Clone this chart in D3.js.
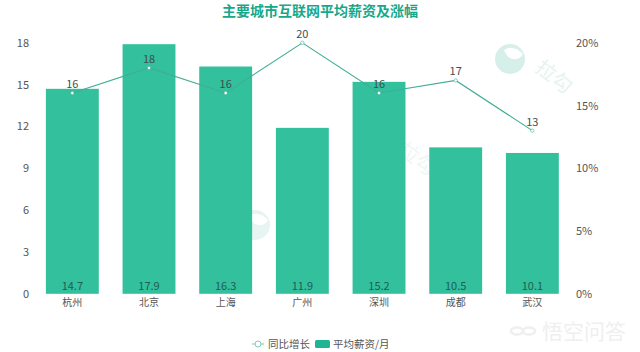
<!DOCTYPE html>
<html>
<head>
<meta charset="utf-8">
<script src="https://cdn.jsdelivr.net/npm/d3@7"></script>
<style>
  html, body { margin: 0; padding: 0; background: #fff; }
  svg { display: block; }
  text { font-family: "Noto Sans CJK SC", "Noto Sans", sans-serif; }
</style>
</head>
<body>
<div id="chart"></div>
<script>
const cities = ['杭州', '北京', '上海', '广州', '深圳', '成都', '武汉']
const salary = [14.7, 17.9, 16.3, 11.9, 15.2, 10.5, 10.1]
const growth = [16, 18, 16, 20, 16, 17, 13]
const salaryTicks = [0, 3, 6, 9, 12, 15, 18]
const growthTicks = [0, 5, 10, 15, 20]

const width = 640
const height = 352
const barColor = '#33c09d'
const lineColor = '#3fae95'
const textColor = '#555'

const svg = d3
  .select('#chart')
  .append('svg')
  .attr('width', width)
  .attr('height', height)
  .attr('viewBox', [0, 0, width, height])

const x = d3.scaleBand().domain(cities).range([34, 570.7]).paddingInner(0.31).paddingOuter(0.155)
const y = d3.scaleLinear().domain([0, 18]).range([293.8, 42.8])
const yRight = d3.scaleLinear().domain([0, 20]).range([293.8, 42.8])

// Title
svg
  .append('text')
  .attr('x', 320)
  .attr('y', 16)
  .attr('text-anchor', 'middle')
  .attr('font-size', 14)
  .attr('font-weight', 700)
  .attr('fill', '#17a78a')
  .text('主要城市互联网平均薪资及涨幅')

// Watermarks, drawn under the bars
function logo(g, circleFill, textFill) {
  g.append('circle').attr('r', 15).attr('fill', circleFill)
  g.append('path').attr('d', 'M-6,-9 Q3,-15 13,-5 Q10,1 3,0 Q-3,-1 -6,-9Z').attr('fill', '#fff')
  g.append('text')
    .attr('x', 43)
    .attr('y', 19)
    .attr('text-anchor', 'middle')
    .attr('dominant-baseline', 'middle')
    .attr('font-size', 20)
    .attr('fill', textFill)
    .attr('transform', 'rotate(38 43 19)')
    .text('拉勾')
}
svg.append('g').attr('transform', 'translate(510,59)').call(logo, '#d6efe9', '#e6f4f0')
svg.append('g').attr('transform', 'translate(255,225)').call(logo, '#e6f5f1', '#eef8f5')
svg.append('g').attr('transform', 'translate(373,141)').call(logo, '#f2faf8', '#eef7f5')

// Bars
svg
  .append('g')
  .selectAll('rect')
  .data(cities)
  .join('rect')
  .attr('x', (d) => x(d))
  .attr('y', (d, i) => y(salary[i]))
  .attr('width', x.bandwidth())
  .attr('height', (d, i) => y(0) - y(salary[i]))
  .attr('fill', barColor)

// Salary labels at the foot of each bar
svg
  .append('g')
  .selectAll('text')
  .data(cities)
  .join('text')
  .attr('x', (d) => x(d) + x.bandwidth() / 2)
  .attr('y', 290)
  .attr('text-anchor', 'middle')
  .attr('font-size', 11)
  .attr('fill', '#1d5f53')
  .text((d, i) => salary[i])

// Axes
const yAxisLeft = d3.axisLeft(y).tickValues(salaryTicks).tickSize(0).tickPadding(0)
const gLeft = svg.append('g').attr('transform', 'translate(29,0)').call(yAxisLeft)
const yAxisRight = d3.axisRight(yRight).tickValues(growthTicks).tickSize(0).tickPadding(0).tickFormat((d) => d + '%')
const gRight = svg.append('g').attr('transform', 'translate(576,0)').call(yAxisRight)
const xAxis = d3.axisBottom(x).tickSize(0).tickPadding(5)
const gBottom = svg.append('g').attr('transform', 'translate(0,293.8)').call(xAxis)
for (const g of [gLeft, gRight, gBottom]) {
  g.select('.domain').remove()
  g.selectAll('text')
    .attr('font-size', 11)
    .attr('font-family', '"Noto Sans CJK SC", sans-serif')
    .attr('fill', textColor)
}
gBottom.selectAll('text').attr('font-size', 10)

// Growth line
const cx = (i) => x(cities[i]) + x.bandwidth() / 2
const line = d3
  .line()
  .x((d, i) => cx(i))
  .y((d) => yRight(d))
svg
  .append('path')
  .attr('d', line(growth))
  .attr('fill', 'none')
  .attr('stroke', lineColor)
  .attr('stroke-width', 1.1)

svg
  .append('g')
  .selectAll('circle')
  .data(growth)
  .join('circle')
  .attr('cx', (d, i) => cx(i))
  .attr('cy', (d) => yRight(d))
  .attr('r', 1.7)
  .attr('fill', '#fff')
  .attr('stroke', lineColor)
  .attr('stroke-width', 0.6)

svg
  .append('g')
  .selectAll('text')
  .data(growth)
  .join('text')
  .attr('x', (d, i) => cx(i))
  .attr('y', (d) => yRight(d) - 5)
  .attr('text-anchor', 'middle')
  .attr('font-size', 11)
  .attr('fill', '#3f4f4c')
  .text((d) => d)

// Legend
const legendY = 344
const legend = svg.append('g').attr('font-size', 10.5).attr('fill', textColor)
legend
  .append('line')
  .attr('x1', 252)
  .attr('x2', 264)
  .attr('y1', legendY)
  .attr('y2', legendY)
  .attr('stroke', '#8fd3c3')
  .attr('stroke-width', 1.2)
legend
  .append('circle')
  .attr('cx', 258)
  .attr('cy', legendY)
  .attr('r', 3)
  .attr('fill', '#fff')
  .attr('stroke', '#7fccb9')
legend.append('text').attr('x', 268).attr('y', legendY + 4).text('同比增长')
legend
  .append('rect')
  .attr('x', 315)
  .attr('y', legendY - 4)
  .attr('width', 15)
  .attr('height', 8)
  .attr('rx', 1.5)
  .attr('fill', '#1fb592')
legend.append('text').attr('x', 333).attr('y', legendY + 4).text('平均薪资/月')

// Source mark bottom right
const mark = svg.append('g')
mark
  .selectAll('ellipse')
  .data(['left', 'right'])
  .join('ellipse')
  .attr('cx', (d) => (d === 'left' ? 517 : 529))
  .attr('cy', 331)
  .attr('rx', 6)
  .attr('ry', 3.5)
  .attr('fill', 'none')
  .attr('stroke', '#efefef')
  .attr('stroke-width', 2.5)
mark
  .append('text')
  .attr('x', 542)
  .attr('y', 339)
  .attr('font-size', 21)
  .attr('fill', '#efefef')
  .text('悟空问答')
</script>
</body>
</html>
